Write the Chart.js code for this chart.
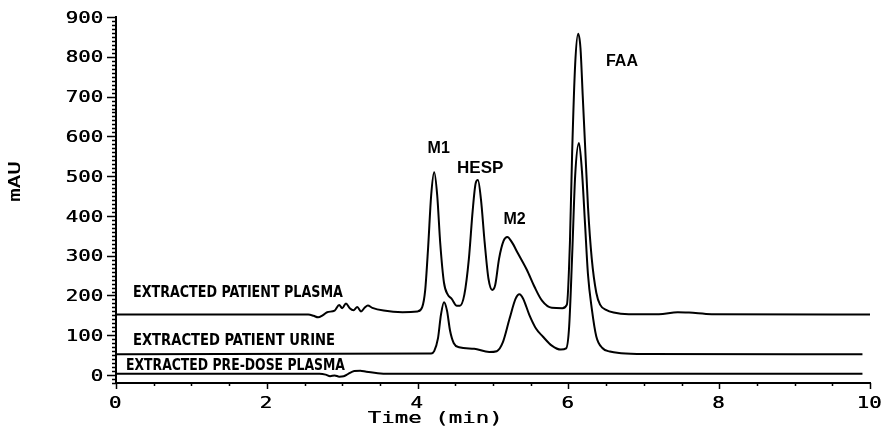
<!DOCTYPE html>
<html lang="en">
<head>
<meta charset="utf-8">
<title>Chromatogram</title>
<script src="https://cdn.jsdelivr.net/npm/chart.js@4.4.1/dist/chart.umd.min.js"></script>
<style>
  html, body { margin: 0; padding: 0; background: #fff; }
  canvas { display: block; }
</style>
</head>
<body>
<canvas id="chromatogram" width="883" height="430"></canvas>
<script>
// retention time (min) and detector response (mAU) for each extract
const plasmaTime = [0, 2.55, 2.62, 2.68, 2.74, 2.80, 2.90, 2.96, 3.00, 3.05, 3.10, 3.15, 3.20, 3.25, 3.30, 3.34, 3.40, 3.55, 3.80, 4.00,
  4.06, 4.10, 4.14, 4.18, 4.22, 4.26, 4.30, 4.35, 4.40, 4.45, 4.52, 4.56, 4.62, 4.68, 4.73, 4.77, 4.80, 4.84, 4.89, 4.94,
  4.99, 5.03, 5.08, 5.14, 5.19, 5.25, 5.33, 5.45, 5.55, 5.65, 5.78, 5.92, 5.98, 6.02, 6.05, 6.09, 6.13, 6.16, 6.19, 6.22,
  6.26, 6.31, 6.37, 6.42, 6.50, 6.60, 6.80, 7.20, 7.45, 7.60, 7.90, 10.0];
const plasmaMau = [152, 152, 149, 145, 150, 158, 162, 176, 168, 180, 168, 163, 171, 160, 170, 175, 169, 162, 158, 160,
  170, 212, 322, 452, 510, 452, 332, 232, 202, 192, 174, 174, 202, 292, 412, 482, 490, 442, 332, 242,
  214, 227, 292, 337, 347, 334, 306, 264, 222, 187, 169, 168, 177, 332, 562, 782, 858, 822, 702, 582,
  422, 292, 207, 177, 164, 157, 153, 153, 158, 157, 153, 152];

const urineTime = [0, 4.18, 4.22, 4.27, 4.31, 4.35, 4.39, 4.43, 4.48, 4.55, 4.75, 4.95, 5.05, 5.13, 5.22, 5.30, 5.35, 5.40, 5.48, 5.57,
  5.66, 5.78, 5.90, 5.97, 6.01, 6.05, 6.09, 6.14, 6.18, 6.22, 6.26, 6.31, 6.37, 6.45, 6.55, 6.70, 7.00, 9.90];
const urineMau = [52, 54, 60, 92, 152, 183, 162, 112, 80, 70, 66, 58, 60, 82, 142, 192, 203, 192, 152, 117,
  97, 74, 64, 67, 122, 302, 502, 583, 512, 382, 252, 167, 97, 68, 59, 55, 53, 52];

const predoseTime = [0, 2.70, 2.78, 2.84, 2.90, 2.96, 3.02, 3.08, 3.16, 3.24, 3.32, 3.45, 3.60, 9.90];
const predoseMau = [3, 3, 1, -3, -1, -4, -3, 3, 10, 11, 8, 5, 3, 3];

const traceNames = ['EXTRACTED PATIENT PLASMA', 'EXTRACTED PATIENT URINE', 'EXTRACTED PRE-DOSE PLASMA'];
const peakNames = ['M1', 'HESP', 'M2', 'FAA'];
const timeTicks = [0, 2, 4, 6, 8, 10];
const mauTicks = [0, 100, 200, 300, 400, 500, 600, 700, 800, 900];

// where the trace names and peak names sit, in axis units
const traceNameBoxes = [
  { from: 0.225, to: 3.01, y: 206 },
  { from: 0.225, to: 2.905, y: 85 },
  { from: 0.133, to: 3.037, y: 23 }
];
const peakNameSpots = [
  { x: 4.28, y: 570, font: 'bold 16px "Liberation Sans", Arial, sans-serif' },
  { x: 4.83, y: 520, font: 'bold 17px "Liberation Sans", Arial, sans-serif' },
  { x: 5.285, y: 392, font: 'bold 16px "Liberation Sans", Arial, sans-serif' },
  { x: 6.71, y: 788, font: 'bold 16px "Liberation Sans", Arial, sans-serif' }
];

const monoFont = '16px "DejaVu Sans Mono", monospace';
const narrowBold = 'bold 15px "Liberation Sans Narrow", "DejaVu Sans Condensed", "Liberation Sans", sans-serif';

const toPoints = (xs, ys) => xs.map((x, i) => ({ x, y: ys[i] }));

const trace = (label, xs, ys) => ({
  label,
  data: toPoints(xs, ys),
  showLine: true,
  borderColor: '#000',
  borderWidth: 2,
  pointRadius: 0,
  cubicInterpolationMode: 'monotone',
  fill: false
});

// text squeezed or widened horizontally around an anchor
function stretchText(ctx, text, x, y, sx, align) {
  ctx.save();
  ctx.translate(x, y);
  ctx.scale(sx, 1);
  ctx.textAlign = align;
  ctx.fillText(text, 0, 0);
  ctx.restore();
}

const plotterMarks = {
  id: 'plotterMarks',
  afterDraw(chart) {
    const { ctx, chartArea, scales: { x, y } } = chart;
    ctx.save();
    ctx.strokeStyle = '#000';
    ctx.fillStyle = '#000';
    ctx.lineWidth = 1.5;

    // tick marks: every 10 mAU and every half minute
    ctx.beginPath();
    y.ticks.forEach(({ value }) => {
      if (Math.abs(value % 10) > 1e-6) return;
      const py = Math.round(y.getPixelForValue(value)) + 0.5;
      const len = mauTicks.includes(value) ? 9 : 4;
      ctx.moveTo(chartArea.left - len, py);
      ctx.lineTo(chartArea.left, py);
    });
    x.ticks.forEach(({ value }) => {
      const px = Math.round(x.getPixelForValue(value)) + 0.5;
      const len = timeTicks.includes(value) ? 6 : 3;
      ctx.moveTo(px, chartArea.bottom);
      ctx.lineTo(px, chartArea.bottom + len);
    });
    ctx.stroke();

    // tick labels, drawn twice with a half-pixel shift for a plotter-pen weight
    ctx.font = monoFont;
    ctx.textBaseline = 'middle';
    [0, 0.5].forEach(dx => {
      mauTicks.forEach(v => {
        stretchText(ctx, String(v), chartArea.left - 13 + dx, y.getPixelForValue(v) + 1.5, 1.3, 'right');
      });
      timeTicks.forEach(v => {
        stretchText(ctx, String(v), x.getPixelForValue(v) - 1 + dx, chartArea.bottom + 21, 1.3, 'center');
      });
      stretchText(ctx, 'Time (min)', x.getPixelForValue(4.23) + dx, chartArea.bottom + 36, 1.4, 'center');
      ctx.save();
      ctx.translate(16, y.getPixelForValue(487) + dx);
      ctx.rotate(-Math.PI / 2);
      stretchText(ctx, 'mAU', 0, 0, 1.4, 'center');
      ctx.restore();
    });

    // trace names fitted between their end points
    ctx.font = narrowBold;
    traceNames.forEach((name, i) => {
      const box = traceNameBoxes[i];
      const x0 = x.getPixelForValue(box.from);
      const x1 = x.getPixelForValue(box.to);
      const w = ctx.measureText(name).width;
      stretchText(ctx, name, x0, y.getPixelForValue(box.y), (x1 - x0) / w, 'left');
    });

    // peak names
    peakNames.forEach((name, i) => {
      const spot = peakNameSpots[i];
      ctx.font = spot.font;
      stretchText(ctx, name, x.getPixelForValue(spot.x), y.getPixelForValue(spot.y), 1, 'center');
    });
    ctx.restore();
  }
};

const ctx = document.getElementById('chromatogram').getContext('2d');
new Chart(ctx, {
  type: 'scatter',
  data: {
    datasets: [
      trace(traceNames[0], plasmaTime, plasmaMau),
      trace(traceNames[1], urineTime, urineMau),
      trace(traceNames[2], predoseTime, predoseMau)
    ]
  },
  options: {
    responsive: false,
    animation: false,
    devicePixelRatio: 1,
    layout: { padding: { top: 17, right: 13, left: 0, bottom: 0 } },
    plugins: {
      legend: { display: false },
      tooltip: { enabled: false }
    },
    scales: {
      x: {
        type: 'linear',
        min: 0,
        max: 10,
        ticks: { stepSize: 0.5, autoSkip: false, display: false },
        grid: { display: true, drawOnChartArea: false, drawTicks: false },
        border: { display: true, color: '#000', width: 2 },
        afterFit: scale => { scale.height = 47; }
      },
      y: {
        type: 'linear',
        min: -20,
        max: 900,
        ticks: { stepSize: 10, autoSkip: false, display: false },
        grid: { display: true, drawOnChartArea: false, drawTicks: false },
        border: { display: true, color: '#000', width: 2 },
        afterFit: scale => { scale.width = 116; }
      }
    }
  },
  plugins: [plotterMarks]
});
</script>
</body>
</html>
